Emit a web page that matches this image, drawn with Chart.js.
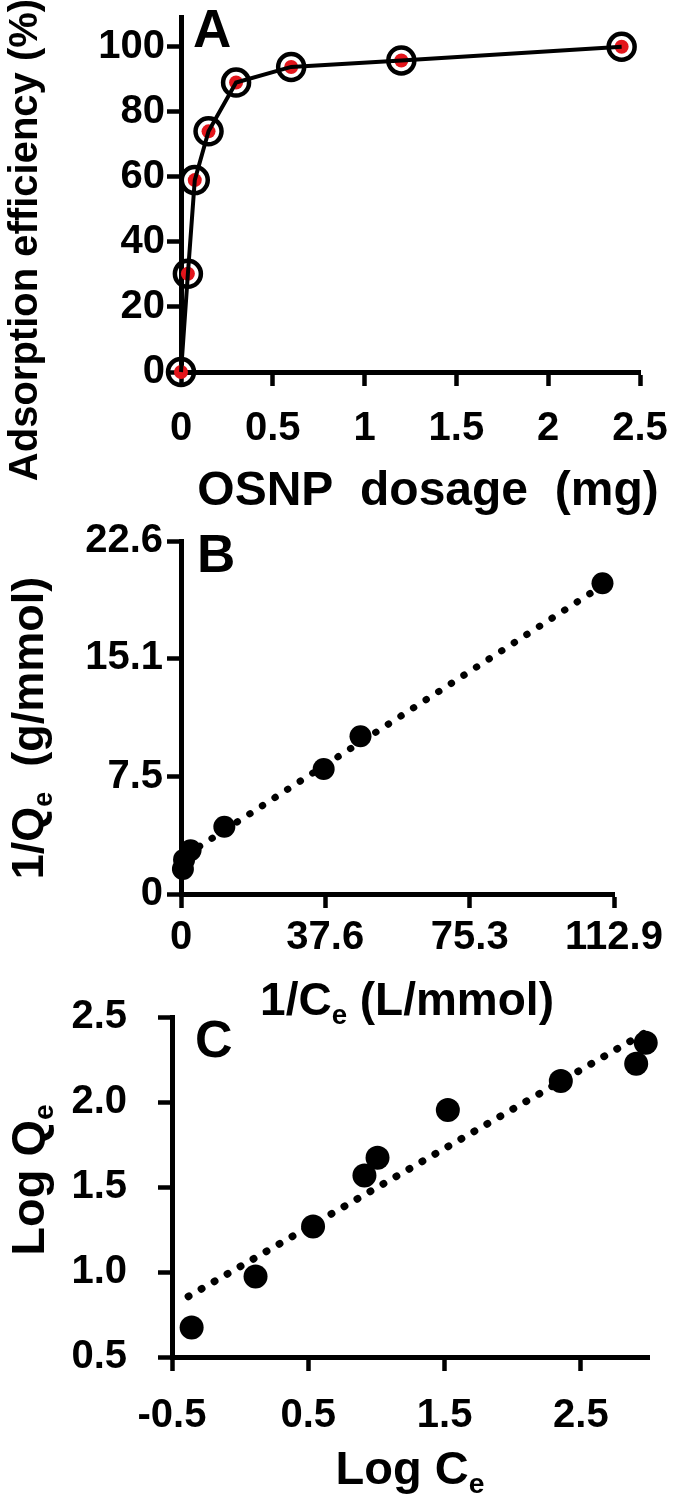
<!DOCTYPE html>
<html>
<head>
<meta charset="utf-8">
<script src="https://cdn.jsdelivr.net/npm/chart.js@4.4.1/dist/chart.umd.min.js"></script>
<style>
  html, body { margin: 0; padding: 0; background: #fff; }
  body { width: 680px; height: 1501px; position: relative; overflow: hidden; }
  canvas { position: absolute; left: 0; }
</style>
</head>
<body>
<canvas id="chartA" width="680" height="525" style="top:0px"></canvas>
<canvas id="chartB" width="680" height="520" style="top:510px"></canvas>
<canvas id="chartC" width="680" height="511" style="top:990px"></canvas>
<script>
// Panel A: adsorption efficiency vs OSNP dosage
const dosageMg = [0, 0.0375, 0.075, 0.15, 0.3, 0.6, 1.2, 2.4];
const efficiencyPct = [0, 30.2, 59, 74, 89, 93.8, 95.8, 100];
const ticksAx = [0, 0.5, 1, 1.5, 2, 2.5];
const ticksAy = [0, 20, 40, 60, 80, 100];

// Panel B: Langmuir plot 1/Qe vs 1/Ce
const invCe = [0.5, 0.8, 2.5, 11.3, 37.2, 46.8, 109.9];
const invQe = [1.6, 2.2, 2.8, 4.3, 8.0, 10.1, 19.9];
const invFitX = [1.5, 109.9];
const invFitY = [2.52, 19.75];
const ticksBx = [0, 37.6, 75.3, 112.9];
const ticksBy = [0, 7.5, 15.1, 22.6];

// Panel C: Freundlich plot Log Qe vs Log Ce
const logCe = [-0.356, 0.113, 0.535, 0.912, 1.008, 1.524, 2.353, 2.906, 2.976];
const logQe = [0.674, 0.974, 1.267, 1.567, 1.672, 1.953, 2.124, 2.225, 2.348];
const logFitX = [-0.38, 2.97];
const logFitY = [0.856, 2.407];
const ticksCx = [-0.5, 0.5, 1.5, 2.5];
const ticksCy = [0.5, 1.0, 1.5, 2.0, 2.5];

const FONT = "'Liberation Sans', Arial, sans-serif";

function toPoints(xs, ys) {
  return xs.map((x, i) => ({ x, y: ys[i] }));
}

// draws panel letters and axis titles (with subscripts)
const figText = {
  id: 'figText',
  afterDraw(chart, args, opts) {
    const ctx = chart.ctx;
    for (const item of opts.items || []) {
      const pieces = item.parts.map(p => ({ text: p.text, sub: !!p.sub, size: p.sub ? item.size * 0.6 : item.size }));
      ctx.save();
      let total = 0;
      for (const p of pieces) {
        ctx.font = `bold ${p.size}px ${FONT}`;
        p.w = ctx.measureText(p.text).width;
        total += p.w;
      }
      ctx.translate(item.x, item.y);
      if (item.rotate) ctx.rotate(item.rotate * Math.PI / 180);
      let x = item.align === 'left' ? 0 : -total / 2;
      ctx.fillStyle = '#000';
      ctx.textAlign = 'left';
      ctx.textBaseline = 'alphabetic';
      for (const p of pieces) {
        ctx.font = `bold ${p.size}px ${FONT}`;
        ctx.fillText(p.text, x, p.sub ? item.size * 0.2 : 0);
        x += p.w;
      }
      ctx.restore();
    }
  }
};

function axis(ticks, min, max, fmt, opts) {
  return {
    type: 'linear',
    min, max,
    afterBuildTicks: a => { a.ticks = ticks.map(v => ({ value: v })); },
    afterFit: a => {
      if (opts.width) a.width = opts.width;
      if (opts.height) a.height = opts.height;
      a.paddingTop = a.paddingBottom = a.paddingLeft = a.paddingRight = 0;
    },
    border: { display: true, color: '#000', width: 5 },
    grid: { display: true, drawOnChartArea: false, drawTicks: true, tickLength: 14, tickWidth: 4.5, tickColor: '#000', color: '#000' },
    ticks: {
      color: '#000', padding: opts.pad, maxRotation: 0, autoSkip: false,
      font: { family: FONT, size: 40, weight: 'bold' },
      callback: fmt,
    },
  };
}

function baseOptions(scales, padding, items) {
  return {
    responsive: false,
    animation: false,
    layout: { padding },
    scales,
    plugins: {
      legend: { display: false },
      tooltip: { enabled: false },
      figText: { items },
    },
  };
}

new Chart(document.getElementById('chartA'), {
  type: 'scatter',
  data: {
    datasets: [
      {
        data: toPoints(dosageMg, efficiencyPct),
        showLine: true, clip: false, order: 1,
        borderColor: '#000', borderWidth: 4,
        pointRadius: 13, pointBorderWidth: 4.5,
        pointBorderColor: '#000', pointBackgroundColor: 'rgba(0,0,0,0)',
      },
      {
        data: toPoints(dosageMg, efficiencyPct),
        showLine: false, clip: false, order: 2,
        pointRadius: 7, pointBorderWidth: 0,
        pointBackgroundColor: '#e3151b',
      },
    ],
  },
  options: baseOptions({
    x: axis(ticksAx, 0, 2.5, v => String(v), { height: 153, pad: 19 }),
    y: axis(ticksAy, 0, 109, v => String(v), { width: 181, pad: 2 }),
  }, { left: 0, top: 12, right: 40, bottom: 0 }, [
    { parts: [{ text: 'A' }], x: 193, y: 47, size: 53, align: 'left' },
    { parts: [{ text: 'OSNP  dosage  (mg)' }], x: 428, y: 505, size: 48 },
    { parts: [{ text: 'Adsorption efficiency (%)' }], x: 37, y: 240, size: 40, rotate: -90 },
  ]),
  plugins: [figText],
});

new Chart(document.getElementById('chartB'), {
  type: 'scatter',
  data: {
    datasets: [
      {
        data: toPoints(invFitX, invFitY),
        showLine: true, clip: false, pointRadius: 0,
        borderColor: '#000', borderWidth: 7,
        borderDash: [0.5, 14.5], borderCapStyle: 'round',
      },
      {
        data: toPoints(invCe, invQe),
        showLine: false, clip: false,
        pointRadius: 11, pointBorderWidth: 0,
        pointBackgroundColor: '#000',
      },
    ],
  },
  options: baseOptions({
    x: axis(ticksBx, 0, 112.9, v => String(v), { height: 136, pad: 6 }),
    y: axis(ticksBy, 0, 22.6, v => String(v), { width: 181, pad: 4 }),
  }, { left: 0, top: 31, right: 66, bottom: 0 }, [
    { parts: [{ text: 'B' }], x: 197, y: 62, size: 53, align: 'left' },
    { parts: [{ text: '1/C' }, { text: 'e', sub: true }, { text: ' (L/mmol)' }], x: 407, y: 505, size: 46 },
    { parts: [{ text: '1/Q' }, { text: 'e', sub: true }, { text: '  (g/mmol)' }], x: 43, y: 218, size: 45, rotate: -90 },
  ]),
  plugins: [figText],
});

new Chart(document.getElementById('chartC'), {
  type: 'scatter',
  data: {
    datasets: [
      {
        data: toPoints(logFitX, logFitY),
        showLine: true, clip: false, pointRadius: 0,
        borderColor: '#000', borderWidth: 7.5,
        borderDash: [0.5, 14.5], borderCapStyle: 'round',
      },
      {
        data: toPoints(logCe, logQe),
        showLine: false, clip: false,
        pointRadius: 12, pointBorderWidth: 0,
        pointBackgroundColor: '#000',
      },
    ],
  },
  options: baseOptions({
    x: axis(ticksCx, -0.5, 3.0, v => String(v), { height: 144, pad: 21 }),
    y: axis(ticksCy, 0.5, 2.5, v => v.toFixed(1), { width: 172, pad: 31 }),
  }, { left: 0, top: 27, right: 31, bottom: 0 }, [
    { parts: [{ text: 'C' }], x: 195, y: 67, size: 52, align: 'left' },
    { parts: [{ text: 'Log C' }, { text: 'e', sub: true }], x: 410, y: 494, size: 47 },
    { parts: [{ text: 'Log Q' }, { text: 'e', sub: true }], x: 44, y: 190, size: 47, rotate: -90 },
  ]),
  plugins: [figText],
});
</script>
</body>
</html>
